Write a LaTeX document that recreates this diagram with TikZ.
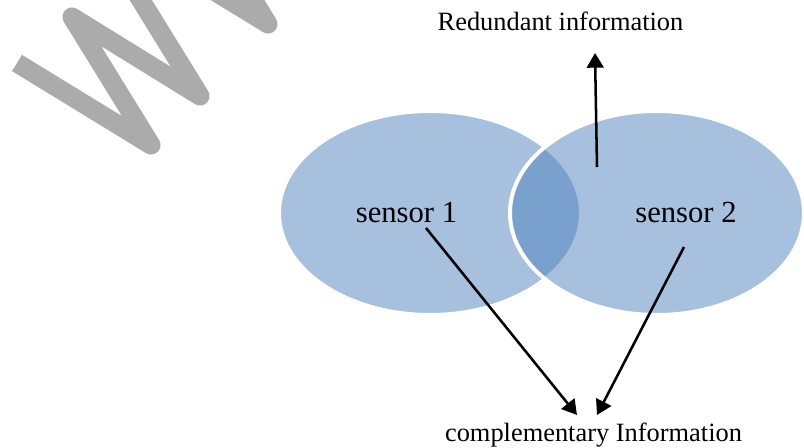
\documentclass[tikz,border=0pt]{standalone}
\usepackage{fontspec}
\setmainfont{Liberation Serif}
\usetikzlibrary{arrows.meta}
\definecolor{accent}{RGB}{79,129,189}
\definecolor{markgray}{RGB}{171,171,171}
\begin{document}
\begin{tikzpicture}[x=0.75pt,y=-0.75pt,
  setblob/.style={fill=accent, fill opacity=0.5, draw=white, line width=3pt},
  conn/.style={line width=1.9pt, -{Triangle[length=11pt,width=12.5pt]}},
  wmark/.style={draw=markgray, line width=14.3pt, line join=round},
  bigtext/.style={font=\fontsize{23}{27}\selectfont, anchor=base, inner sep=0pt},
  smalltext/.style={font=\fontsize{19.8}{24}\selectfont, anchor=base, inner sep=0pt}]
\useasboundingbox (0,0) rectangle (804,448);

% faint "W" strokes in the upper left corner
\begin{scope}
  \clip (0,0) rectangle (804,448);
  \draw[wmark] (17,63) -- (151,145) -- (72,17) -- (200,96) -- (121,-32);
  \draw[wmark] (134,-58) -- (268,24) -- (189,-104);
\end{scope}

% the two sensor sets
\draw[setblob] (430,213) ellipse [x radius=151, y radius=102];
\draw[setblob] (657,213) ellipse [x radius=147, y radius=102];

% labels
\node[bigtext] (s1) at (406.5,223) {sensor 1};
\node[bigtext] (s2) at (686,223) {sensor 2};
\node[smalltext] (red) at (560.5,31) {Redundant information};
\node[smalltext] (comp) at (593.5,442) {complementary Information};

% arrow end points
\coordinate (upTail) at (597,167);
\coordinate (upHead) at (595,53);
\coordinate (oneTail) at (426,228);
\coordinate (oneHead) at (577,415);
\coordinate (twoTail) at (684,247);
\coordinate (twoHead) at (597,415);

\draw[conn] (upTail) -- (upHead);
\draw[conn] (oneTail) -- (oneHead);
\draw[conn] (twoTail) -- (twoHead);
\end{tikzpicture}
\end{document}
